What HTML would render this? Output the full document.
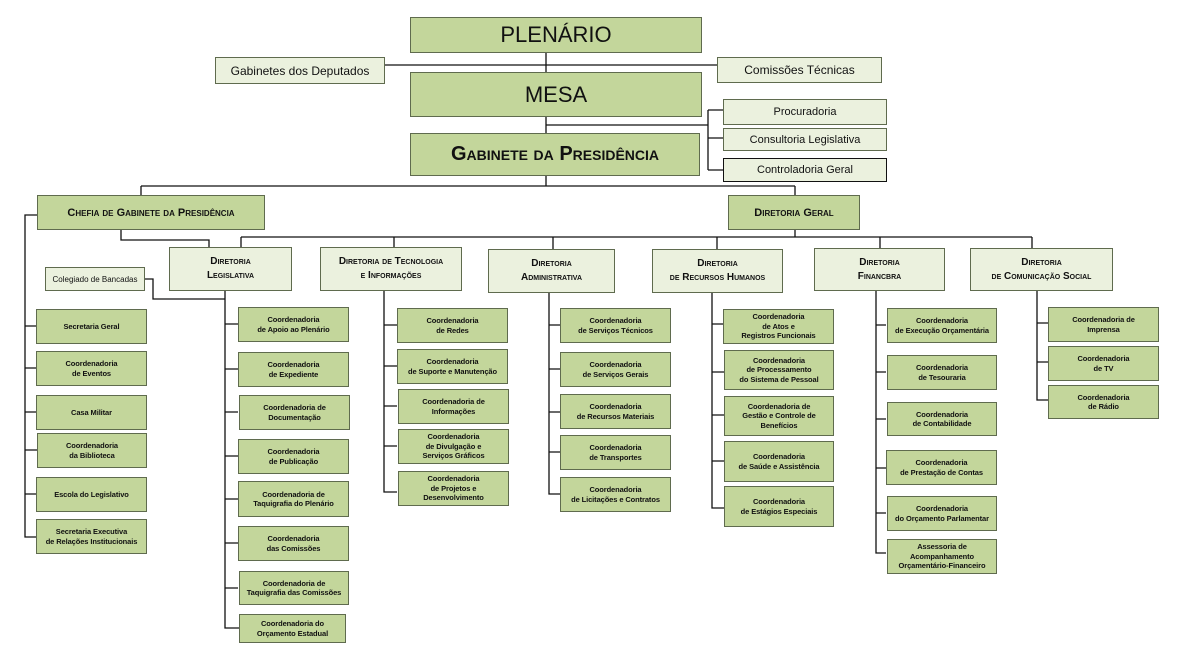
<!DOCTYPE html>
<html><head><meta charset="utf-8"><style>
html,body{margin:0;padding:0;background:#fff;}
#c{position:relative;width:1181px;height:649px;overflow:hidden;font-family:"Liberation Sans",sans-serif;}
.b{position:absolute;box-sizing:border-box;background:#c3d69b;border:1.5px solid #5f6b4e;display:flex;align-items:center;justify-content:center;text-align:center;color:#111;}
.l{background:#ebf1de;}
.s{font-size:7.5px;font-weight:bold;line-height:9.5px;letter-spacing:-0.1px;}
.d{font-size:10px;font-weight:bold;line-height:14px;font-variant:small-caps;}
svg{position:absolute;left:0;top:0;}
</style></head><body><div id="c">
<svg width="1181" height="649" stroke="#111" stroke-width="1.3" fill="none">
<path d="M385 65H717M546 53V186M546 125H708M708 110V170M708 110H723M708 138H723M708 170H723"/>
<path d="M141 186H795M141 186V195M795 186V195"/>
<path d="M121 230V240H209V247M795 230V237M241 237H1032M241 237V247M394 237V247M553 237V249M717 237V249M880 237V248M1032 237V248"/>
<path d="M37 215H25V537H37M25 326H37M25 368H37M25 412H37M25 450H37M25 494H37"/>
<path d="M145 279H153V299H225M225 291V628H239M225 324H238M225 369H238M225 412H238M225 456H238M225 499H238M225 543H238M225 588H238"/>
<path d="M384 291V492H397M384 325H397M384 366H397M384 406H397M384 446H397"/>
<path d="M549 293V494H560M549 325H560M549 369H560M549 412H560M549 452H560"/>
<path d="M712 293V508H724M712 324H724M712 372H724M712 415H724M712 461H724"/>
<path d="M876 291V553H886M876 325H886M876 372H886M876 419H886M876 468H886M876 513H886"/>
<path d="M1037 291V400H1048M1037 323H1048M1037 362H1048"/>
</svg>
<div class="b" style="left:410px;top:17px;width:292px;height:36px;font-size:22px;">PLENÁRIO</div>
<div class="b l" style="left:215px;top:57px;width:170px;height:27px;font-size:12px;">Gabinetes dos Deputados</div>
<div class="b l" style="left:717px;top:57px;width:165px;height:26px;font-size:12px;">Comissões Técnicas</div>
<div class="b" style="left:410px;top:72px;width:292px;height:45px;font-size:22px;">MESA</div>
<div class="b l" style="left:723px;top:99px;width:164px;height:26px;font-size:11px;">Procuradoria</div>
<div class="b l" style="left:723px;top:128px;width:164px;height:23px;font-size:11px;">Consultoria Legislativa</div>
<div class="b l" style="left:723px;top:158px;width:164px;height:24px;font-size:11px;border-color:#111;">Controladoria Geral</div>
<div class="b" style="left:410px;top:133px;width:290px;height:43px;font-size:20px;font-weight:bold;font-variant:small-caps;">Gabinete da Presidência</div>
<div class="b" style="left:37px;top:195px;width:228px;height:35px;font-size:11px;font-weight:bold;font-variant:small-caps;">Chefia de Gabinete da Presidência</div>
<div class="b" style="left:728px;top:195px;width:132px;height:35px;font-size:11px;font-weight:bold;font-variant:small-caps;">Diretoria Geral</div>

<div class="b l d" style="left:169px;top:247px;width:123px;height:44px;">Diretoria<br>Legislativa</div>
<div class="b l d" style="left:320px;top:247px;width:142px;height:44px;">Diretoria de Tecnologia<br>e Informações</div>
<div class="b l d" style="left:488px;top:249px;width:127px;height:44px;">Diretoria<br>Administrativa</div>
<div class="b l d" style="left:652px;top:249px;width:131px;height:44px;">Diretoria<br>de Recursos Humanos</div>
<div class="b l d" style="left:814px;top:248px;width:131px;height:43px;">Diretoria<br>Financbra</div>
<div class="b l d" style="left:970px;top:248px;width:143px;height:43px;">Diretoria<br>de Comunicação Social</div>

<div class="b l" style="left:45px;top:267px;width:100px;height:24px;font-size:8px;">Colegiado de Bancadas</div>

<div class="b s" style="left:36px;top:309px;width:111px;height:35px;">Secretaria Geral</div>
<div class="b s" style="left:36px;top:351px;width:111px;height:35px;">Coordenadoria<br>de Eventos</div>
<div class="b s" style="left:36px;top:395px;width:111px;height:35px;">Casa Militar</div>
<div class="b s" style="left:37px;top:433px;width:110px;height:35px;">Coordenadoria<br>da Biblioteca</div>
<div class="b s" style="left:36px;top:477px;width:111px;height:35px;">Escola do Legislativo</div>
<div class="b s" style="left:36px;top:519px;width:111px;height:35px;">Secretaria Executiva<br>de Relações Institucionais</div>

<div class="b s" style="left:238px;top:307px;width:111px;height:35px;">Coordenadoria<br>de Apoio ao Plenário</div>
<div class="b s" style="left:238px;top:352px;width:111px;height:35px;">Coordenadoria<br>de Expediente</div>
<div class="b s" style="left:239px;top:395px;width:111px;height:35px;">Coordenadoria de<br>Documentação</div>
<div class="b s" style="left:238px;top:439px;width:111px;height:35px;">Coordenadoria<br>de Publicação</div>
<div class="b s" style="left:238px;top:481px;width:111px;height:36px;">Coordenadoria de<br>Taquigrafia do Plenário</div>
<div class="b s" style="left:238px;top:526px;width:111px;height:35px;">Coordenadoria<br>das Comissões</div>
<div class="b s" style="left:239px;top:571px;width:110px;height:34px;">Coordenadoria de<br>Taquigrafia das Comissões</div>
<div class="b s" style="left:239px;top:614px;width:107px;height:29px;">Coordenadoria do<br>Orçamento Estadual</div>

<div class="b s" style="left:397px;top:308px;width:111px;height:35px;">Coordenadoria<br>de Redes</div>
<div class="b s" style="left:397px;top:349px;width:111px;height:35px;">Coordenadoria<br>de Suporte e Manutenção</div>
<div class="b s" style="left:398px;top:389px;width:111px;height:35px;">Coordenadoria de<br>Informações</div>
<div class="b s" style="left:398px;top:429px;width:111px;height:35px;">Coordenadoria<br>de Divulgação e<br>Serviços Gráficos</div>
<div class="b s" style="left:398px;top:471px;width:111px;height:35px;">Coordenadoria<br>de Projetos e<br>Desenvolvimento</div>

<div class="b s" style="left:560px;top:308px;width:111px;height:35px;">Coordenadoria<br>de Serviços Técnicos</div>
<div class="b s" style="left:560px;top:352px;width:111px;height:35px;">Coordenadoria<br>de Serviços Gerais</div>
<div class="b s" style="left:560px;top:394px;width:111px;height:35px;">Coordenadoria<br>de Recursos Materiais</div>
<div class="b s" style="left:560px;top:435px;width:111px;height:35px;">Coordenadoria<br>de Transportes</div>
<div class="b s" style="left:560px;top:477px;width:111px;height:35px;">Coordenadoria<br>de Licitações e Contratos</div>

<div class="b s" style="left:723px;top:309px;width:111px;height:35px;">Coordenadoria<br>de Atos e<br>Registros Funcionais</div>
<div class="b s" style="left:724px;top:350px;width:110px;height:40px;">Coordenadoria<br>de Processamento<br>do Sistema de Pessoal</div>
<div class="b s" style="left:724px;top:396px;width:110px;height:40px;">Coordenadoria de<br>Gestão e Controle de<br>Benefícios</div>
<div class="b s" style="left:724px;top:441px;width:110px;height:41px;">Coordenadoria<br>de Saúde e Assistência</div>
<div class="b s" style="left:724px;top:486px;width:110px;height:41px;">Coordenadoria<br>de Estágios Especiais</div>

<div class="b s" style="left:887px;top:308px;width:110px;height:35px;">Coordenadoria<br>de Execução Orçamentária</div>
<div class="b s" style="left:887px;top:355px;width:110px;height:35px;">Coordenadoria<br>de Tesouraria</div>
<div class="b s" style="left:887px;top:402px;width:110px;height:34px;">Coordenadoria<br>de Contabilidade</div>
<div class="b s" style="left:886px;top:450px;width:111px;height:35px;">Coordenadoria<br>de Prestação de Contas</div>
<div class="b s" style="left:887px;top:496px;width:110px;height:35px;">Coordenadoria<br>do Orçamento Parlamentar</div>
<div class="b s" style="left:887px;top:539px;width:110px;height:35px;">Assessoria de<br>Acompanhamento<br>Orçamentário-Financeiro</div>

<div class="b s" style="left:1048px;top:307px;width:111px;height:35px;">Coordenadoria de<br>Imprensa</div>
<div class="b s" style="left:1048px;top:346px;width:111px;height:35px;">Coordenadoria<br>de TV</div>
<div class="b s" style="left:1048px;top:385px;width:111px;height:34px;">Coordenadoria<br>de Rádio</div>
</div></body></html>
